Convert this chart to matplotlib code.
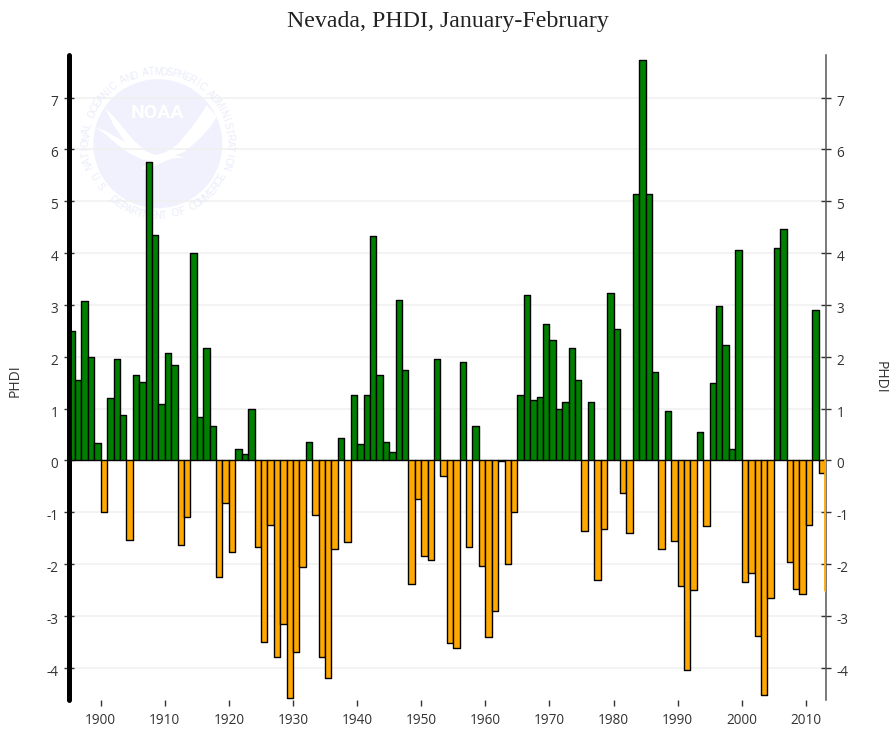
import numpy as np
import matplotlib
matplotlib.use("Agg")
import matplotlib.pyplot as plt
from matplotlib.patches import Circle, Polygon
from matplotlib.transforms import Affine2D, ScaledTranslation

TITLE = "Nevada, PHDI, January-February"
YLABEL = "PHDI"
first_year = 1895
phdi = [2.5, 1.55, 3.07, 2.0, 0.34, -1.0, 1.2, 1.95, 0.87, -1.53,
        1.64, 1.51, 5.75, 4.34, 1.08, 2.08, 1.85, -1.63, -1.1, 4.0,
        0.84, 2.16, 0.66, -2.25, -0.82, -1.77, 0.23, 0.13, 1.0, -1.67,
        -3.5, -1.25, -3.8, -3.15, -4.58, -3.7, -2.05, 0.36, -1.05, -3.8,
        -4.2, -1.7, 0.44, -1.58, 1.26, 0.32, 1.26, 4.32, 1.65, 0.36,
        0.16, 3.1, 1.75, -2.38, -0.75, -1.85, -1.92, 1.95, -0.3, -3.52,
        -3.62, 1.9, -1.66, 0.67, -2.03, -3.4, -2.9, -0.02, -2.0, -1.0,
        1.26, 3.2, 1.17, 1.23, 2.63, 2.33, 1.0, 1.12, 2.16, 1.56,
        -1.37, 1.12, -2.3, -1.32, 3.23, 2.53, -0.62, -1.4, 5.13, 7.72,
        5.13, 1.7, -1.7, 0.95, -1.55, -2.42, -4.05, -2.5, 0.55, -1.27,
        1.5, 2.98, 2.22, 0.22, 4.05, -2.35, -2.17, -3.38, -4.53, -2.65,
        4.09, 4.46, -1.95, -2.48, -2.57, -1.25, 2.9, -0.25, -2.5]
x_ticks = list(range(1900, 2011, 10))
y_ticks = list(range(-4, 8))

W, H = 890, 730
fig = plt.figure(figsize=(W / 100, H / 100), dpi=100, facecolor="white")
L, R, T, B = 68.65, 826.0, 55.0, 700.0
ax = fig.add_axes([L / W, 1 - B / H, (R - L) / W, (B - T) / H])
ax.set_xlim(1895, 2013.15)
ax.set_ylim(-4.62, 7.82)
ax.set_facecolor("none")

GREEN, ORANGE = "#008000", "#FFA800"
years = np.arange(first_year, first_year + len(phdi))
vals = np.array(phdi)
colors = [GREEN if v >= 0 else ORANGE for v in vals]
edges = ["black"] * (len(vals) - 1) + [ORANGE]
widths = [1.0] * (len(vals) - 1) + [2.0]
ax.bar(years, vals, width=1.0, align="edge", color=colors,
       edgecolor=edges, linewidth=widths, zorder=3, joinstyle="round")

ax.set_axisbelow(True)
ax.yaxis.grid(True, color="#f0f0f0", linewidth=1.1, zorder=1)
ax.xaxis.grid(False)
for s in ("top", "bottom"):
    ax.spines[s].set_visible(False)
ax.spines["left"].set_linewidth(3.6)
ax.spines["left"].set_color("black")
ax.spines["left"].set_capstyle("round")
ax.spines["left"].set_zorder(6)
ax.spines["right"].set_linewidth(1.1)
ax.spines["right"].set_color("#555555")
ax.spines["right"].set_zorder(2)

TF = ["Open Sans"]
ax.set_xticks(x_ticks)
ax.set_yticks(y_ticks)
ax.tick_params(axis="y", which="major", left=True, right=True, labelleft=True,
               labelright=True, direction="inout", length=7, width=1.0,
               color="#333333", labelsize=9.8, labelcolor="#333333", pad=4)
ax.tick_params(axis="x", which="major", bottom=True, direction="out", length=4,
               width=1.0, color="#333333", labelsize=9.8, labelcolor="#333333",
               pad=5.5)
shift = ScaledTranslation(0, -2.5 / 100, fig.dpi_scale_trans)
for lab in ax.get_yticklabels() + ax.get_xticklabels():
    lab.set_fontfamily(TF)
for tick in ax.yaxis.get_major_ticks():
    tick.label1.set_transform(tick.label1.get_transform() + shift)
    tick.label2.set_transform(tick.label2.get_transform() + shift)
ax.set_yticklabels([str(v) for v in y_ticks])

fig.text(447.5 / W, 1 - 22 / H, TITLE, family="Liberation Serif", fontsize=17.2,
         ha="center", va="center", color="#222222")
fig.text(15 / W, 1 - 381 / H, YLABEL, family=TF, fontsize=10, rotation=90,
         ha="center", va="center", color="#333333")
fig.text(880 / W, 1 - 377 / H, YLABEL, family=TF, fontsize=10, rotation=270,
         ha="center", va="center", color="#333333")

# NOAA watermark, placed in image pixel coordinates
px = Affine2D().scale(1, -1).translate(0, H)
LOGO = "#f0f1fc"
cx, cy, rad = 157.8, 143.7, 64.5
ax.add_patch(Circle((cx, cy), rad, transform=px, facecolor=LOGO, edgecolor="none",
                    zorder=0, clip_on=False))
bird = [(105, 262), (135, 282), (170, 312), (205, 338), (245, 358), (272, 363),
        (245, 385), (262, 393), (295, 372), (335, 356), (375, 352), (345, 346),
        (375, 335), (420, 295), (450, 262), (470, 230), (440, 195), (415, 235),
        (385, 275), (350, 315), (315, 338), (285, 345), (255, 332), (220, 300),
        (185, 258), (160, 228), (135, 205), (165, 262), (195, 305), (175, 295),
        (135, 272)]
ax.add_patch(Polygon([(60 + a / 3, 40 + b / 3) for a, b in bird], closed=True,
                     transform=px, facecolor="white", edgecolor="none", zorder=0.5))
ax.text(157, 113.5, "NOAA", transform=px, family="Roboto", fontsize=14, weight="bold",
        color="white", ha="center", va="center", zorder=0.6)


def ring(text, a0, a1, r, top=True):
    for ch, a in zip(text, np.linspace(a0, a1, len(text))):
        t = np.radians(a)
        x, y = cx + r * np.cos(t), cy - r * np.sin(t)
        rot = a - 90 if top else a + 90
        ax.text(x, y, ch, transform=px, fontsize=7, color="#eaecfa", family="Liberation Sans",
                rotation=rot, rotation_mode="anchor", ha="center", va="center",
                zorder=0.6, clip_on=False)


ring("NATIONAL OCEANIC AND ATMOSPHERIC ADMINISTRATION", 198, -18, 72)
ring("U.S. DEPARTMENT OF COMMERCE", 207, 333, 72, top=False)

fig.savefig("out.png", dpi=100, facecolor="white")
